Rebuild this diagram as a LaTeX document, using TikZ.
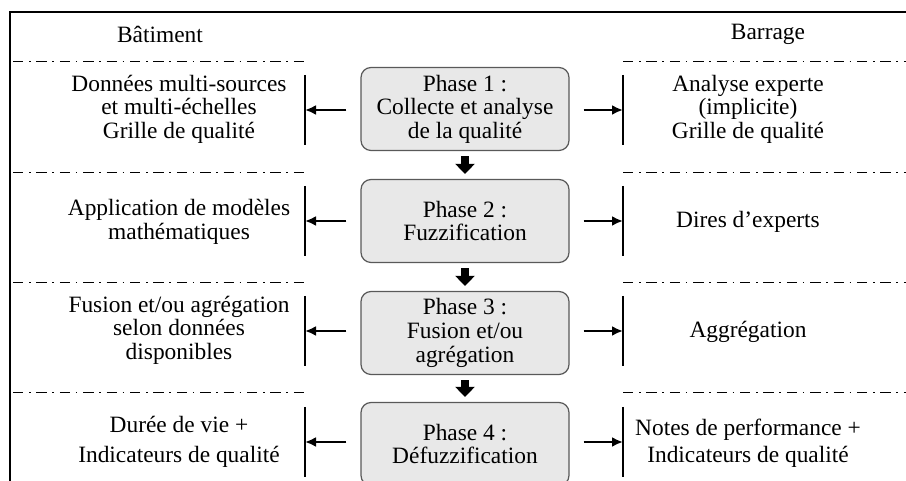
\documentclass[tikz,border=0pt]{standalone}
\usepackage{fontspec}
\setmainfont{Liberation Serif}
\usetikzlibrary{arrows.meta}
\tikzset{
    phase-box/.style = {draw=black!65, fill=black!9, line width=0.6pt, rectangle, rounded corners=5pt, minimum width=104pt, minimum height=41.5pt, align=center, inner sep=2pt},
    side-text/.style = {align=center, inner sep=0pt},
    sep-line/.style = {line width=0.5pt, dash pattern=on 5.2pt off 2.8pt on 0.8pt off 2.9pt},
    down-arrow/.style = {line width=4pt, -{Triangle[length=5pt,width=9.5pt]}, shorten <=2.5pt, shorten >=2.5pt},
    out-arrow/.style = {line width=1.3pt, -{Latex[length=5.5pt,width=5pt]}, shorten <=7pt},
    side-bar/.style = {line width=0.9pt},
}

\begin{document}
\begin{tikzpicture}[x=0.5pt, y=0.5pt, font=\fontsize{11.7pt}{11.8pt}\selectfont]
\useasboundingbox (0,0) rectangle (906,481);
\clip (0,0) rectangle (906,481);

\draw[line width=1pt] (10,0) -- (10,469) -- (906,469);

\node (batiment) at (160,447) {Bâtiment};
\node (barrage) at (768,447) {Barrage};

\foreach \y in {419,308,198,88} {
    \draw[sep-line] (13,\y) -- (305,\y);
    \draw[sep-line] (623,\y) -- (906,\y);
}

\node[phase-box] (p1) at (465,372) {Phase 1 :\\Collecte et analyse\\de la qualité};
\node[phase-box] (p2) at (465,260) {Phase 2 :\\Fuzzification};
\node[phase-box] (p3) at (465,148) {Phase 3 :\\Fusion et/ou\\agrégation};
\node[phase-box] (p4) at (465,37) {Phase 4 :\\Défuzzification};

\draw[down-arrow] (p1) -- (p2);
\draw[down-arrow] (p2) -- (p3);
\draw[down-arrow] (p3) -- (p4);

\node[side-text] (b1) at (179,372) {Données multi-sources\\et multi-échelles\\Grille de qualité};
\node[side-text] (b2) at (179,259) {Application de modèles\\mathématiques};
\node[side-text] (b3) at (179,151) {Fusion et/ou agrégation\\selon données\\disponibles};
\node[side-text] (b4) at (179,39) {Durée de vie +\\[3pt]Indicateurs de qualité};

\node[side-text] (r1) at (748,372) {Analyse experte\\(implicite)\\Grille de qualité};
\node[side-text] (r2) at (748,259) {Dires d’experts};
\node[side-text] (r3) at (748,149) {Aggrégation};
\node[side-text] (r4) at (748,38) {Notes de performance +\\[1.5pt]Indicateurs de qualité};

% bars and arrows on both sides of each phase
\foreach \i/\y in {1/371,2/260,3/150,4/39} {
    \coordinate (lb\i) at (305,\y);
    \coordinate (rb\i) at (623,\y);
    \draw[side-bar] (lb\i) ++(0,35) -- ++(0,-70);
    \draw[side-bar] (rb\i) ++(0,35) -- ++(0,-70);
    \draw[out-arrow] (p\i.west |- lb\i) -- (lb\i);
    \draw[out-arrow] (p\i.east |- rb\i) -- (rb\i);
}
\end{tikzpicture}
\end{document}
